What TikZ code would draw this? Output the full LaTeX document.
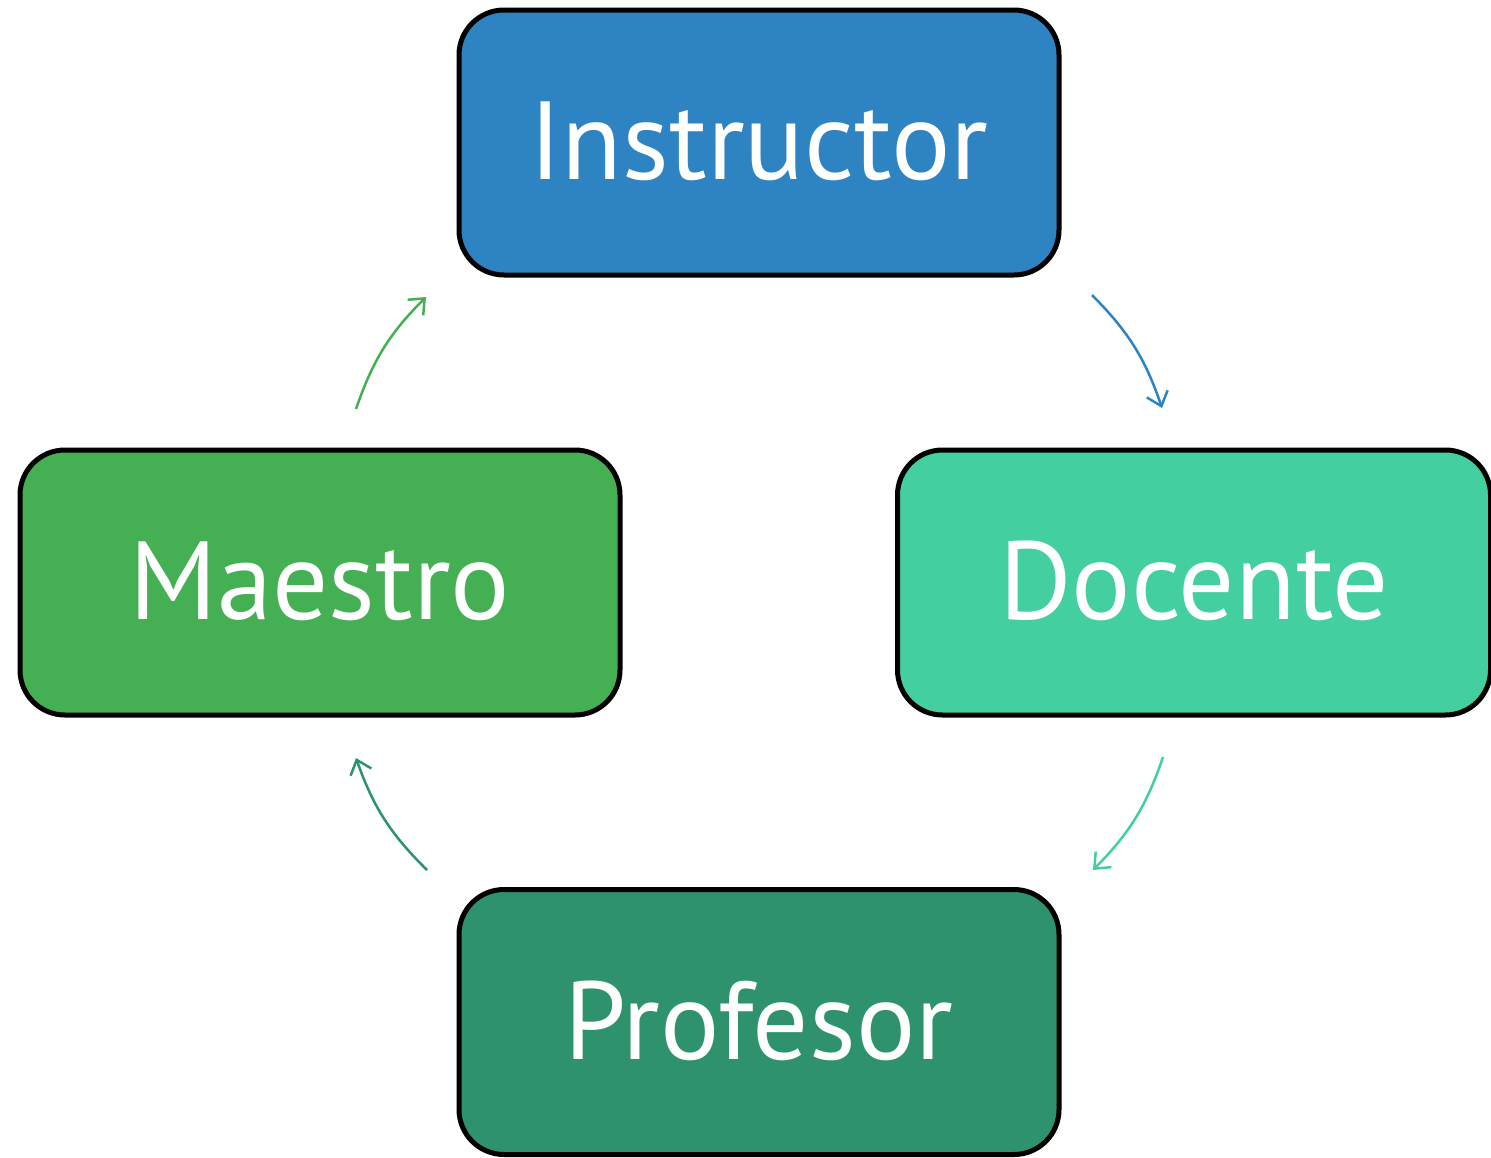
\documentclass[tikz,border=0pt]{standalone}
\usepackage{fontspec}
\setmainfont{PT Sans}
\usetikzlibrary{arrows.meta}
\definecolor{cblue}{HTML}{2E84C3}
\definecolor{cgreen}{HTML}{44B053}
\definecolor{cteal}{HTML}{44CFA0}
\definecolor{cdark}{HTML}{2E936C}
\newcommand{\boxlbl}[1]{\raisebox{4pt}{#1}}
\tikzset{
  box/.style={draw=black, line width=5pt, rounded corners=45pt, minimum width=600pt, minimum height=265pt, inner sep=0pt, text=white, font=\fontsize{111}{120}\selectfont},
  cyc/.style={line width=2.5pt, -{Straight Barb[length=13pt,width=22pt,line width=2.5pt]}, bend left=13}
}
\begin{document}
\begin{tikzpicture}[x=1pt,y=-1pt]
\useasboundingbox (0,0) rectangle (1491,1157);
\node[box, fill=cblue] (ins) at (759,142.5) {\boxlbl{Instructor}};
\node[box, fill=cgreen] (mae) at (320,582.5) {\boxlbl{Maestro}};
\node[box, fill=cteal, minimum width=593pt] (doc) at (1194,582.5) {\boxlbl{Docente}};
\node[box, fill=cdark] (pro) at (759,1022) {\boxlbl{Profesor}};
\coordinate (a1) at (1092,295);
\coordinate (b1) at (1162,408);
\coordinate (a2) at (1163,757);
\coordinate (b2) at (1093,870);
\coordinate (a3) at (427,870);
\coordinate (b3) at (356,758);
\coordinate (a4) at (356,409);
\coordinate (b4) at (426,297);
\draw[cyc, cblue] (a1) to (b1);
\draw[cyc, cteal] (a2) to (b2);
\draw[cyc, cdark] (a3) to (b3);
\draw[cyc, cgreen] (a4) to (b4);
\end{tikzpicture}
\end{document}
